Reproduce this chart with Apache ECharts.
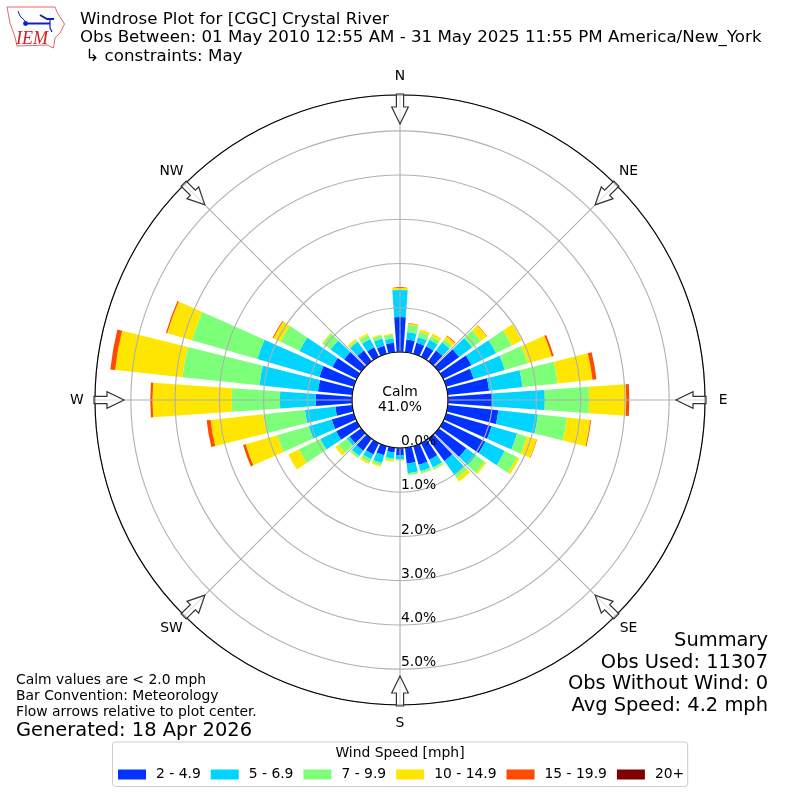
<!DOCTYPE html>
<html><head><meta charset="utf-8">
<style>html,body{margin:0;padding:0;background:#fff}#c{width:800px;height:800px}</style>
<script src="https://cdn.jsdelivr.net/npm/echarts@6/dist/echarts.min.js"></script>
</head><body><div id="c"></div>
<script>
const directions = [0,10,20,30,40,50,60,70,80,90,100,110,120,130,140,150,160,170,180,190,200,210,220,230,240,250,260,270,280,290,300,310,320,330,340,350];
const compassNames = ['N','NE','E','SE','S','SW','W','NW'];
const compassAngles = [0,45,90,135,180,225,270,315];
const radialTicks = [0,1,2,3,4,5];
const speedBins = ['2 - 4.9','5 - 6.9','7 - 9.9','10 - 14.9','15 - 19.9','20+'];
const binColors = ['#0033ff','#00d4ff','#7dff7a','#ffe600','#ff4a00','#800000'];
const s2to5 = [.79,.29,.26,.265,.30,.57,.71,.645,.94,1.0,1.15,1.07,1.06,.77,.62,.42,.44,.36,.16,.11,.217,.285,.33,.32,.52,.52,.385,.82,.78,.81,.615,.475,.30,.24,.19,.215];
const s5to7 = [.61,.17,.135,.165,.23,.36,.62,.735,.76,1.19,.90,.60,.49,.27,.39,.19,.15,.22,.10,.14,.18,.12,.15,.08,.40,.54,.69,.81,1.33,1.46,.83,.38,.24,.21,.17,.10];
const s7to10 = [.01,.165,.12,.09,.08,.25,.40,.54,.80,1.0,.66,.23,.31,.25,.09,.05,.05,.04,.02,.04,.055,.08,.05,.235,.54,.74,.945,1.09,1.75,1.54,.475,.22,.04,.10,.08,.09];
const s10to15 = [.05,.03,.06,.07,.09,.165,.25,.565,.79,.84,.53,.23,.06,.04,.09,.015,.01,0,.01,.03,.035,.04,.01,.09,.265,.745,1.2,1.79,1.53,.58,.18,.02,.04,.04,.02,.02];
const s15to20 = [0,.01,0,0,.02,.01,0,.045,.09,.07,.02,.01,0,0,0,0,0,0,0,0,0,0,0,0,0,.06,.09,.05,.11,.03,.02,0,0,0,0,0];
const s20plus = directions.map(() => 0);
const binValues = [s2to5,s5to7,s7to10,s10to15,s15to20,s20plus];
const titleLines = ['Windrose Plot for [CGC] Crystal River','Obs Between: 01 May 2010 12:55 AM - 31 May 2025 11:55 PM America/New_York',' ↳ constraints: May'];
const summaryLines = ['Summary','Obs Used: 11307','Obs Without Wind: 0','Avg Speed: 4.2 mph'];
const noteLines = ['Calm values are < 2.0 mph','Bar Convention: Meteorology','Flow arrows relative to plot center.'];

const FONT = 'DejaVu Sans';
const CX = 400, CY = 400;
const COMPASS_LABEL_RADIUS = 6.22;
const chart = echarts.init(document.getElementById('c'), null, {renderer:'canvas', width:800, height:800});

function txt(text, x, y, size, align, extra) {
  return {type:'text', x, y, z:50, silent:true, style:Object.assign({text, fontFamily:FONT, fontSize:size, fill:'#000', align:align||'left', verticalAlign:'middle'}, extra||{})};
}
const arrowPts = [[0,-276],[8.3,-293],[3.6,-293],[3.6,-306],[-3.6,-306],[-3.6,-293],[-8.3,-293]];
const arrows = compassAngles.map(d => ({
  type:'polygon', x:CX, y:CY, rotation:-d*Math.PI/180, z:40, silent:true,
  shape:{points:arrowPts}, style:{fill:'rgba(255,255,255,0.6)', stroke:'#333', lineWidth:1.2}
}));
const logo = [
  {type:'polyline', z:40, silent:true, shape:{points:[[7,7],[55,7],[57.5,13],[64.5,24],[60,33],[55,38],[53.5,48],[47,45],[17,46],[15,37],[10,23],[7,7]]}, style:{fill:'none', stroke:'#e06a6a', lineWidth:1}},
  {type:'polyline', z:41, silent:true, shape:{points:[[25,23.5],[50,23.5]]}, style:{stroke:'#1020c0', lineWidth:2, fill:'none'}},
  {type:'polyline', z:41, silent:true, shape:{points:[[18,11],[20,16],[25,21]]}, style:{stroke:'#1020c0', lineWidth:1, fill:'none'}},
  {type:'polyline', z:41, silent:true, shape:{points:[[40,15],[47,19],[54,19]]}, style:{stroke:'#1020c0', lineWidth:2, fill:'none'}},
  {type:'polyline', z:41, silent:true, shape:{points:[[50,20],[50,28],[52,32]]}, style:{stroke:'#1020c0', lineWidth:1.2, fill:'none'}},
  {type:'circle', z:41, silent:true, shape:{cx:25.5,cy:23.5,r:2.4}, style:{fill:'#1020c0'}},
  {type:'text', x:16, y:30, z:41, silent:true, style:{text:'IEM', fontFamily:'Liberation Serif', fontStyle:'italic', fontSize:18, fill:'#d02020'}}
];
const texts = [
  txt(titleLines[0],80,20,16.67), txt(titleLines[1],80,38,16.67), txt(titleLines[2],80,57,16.67),
  txt('Calm',CX,392.5,13.89,'center'), txt('41.0%',CX,407.5,13.89,'center'),
  txt(summaryLines[0],768,641,19.44,'right'), txt(summaryLines[1],768,662.5,19.44,'right'),
  txt(summaryLines[2],768,684,19.44,'right'), txt(summaryLines[3],768,706,19.44,'right'),
  txt(noteLines[0],16,680.5,13.89), txt(noteLines[1],16,696.5,13.89), txt(noteLines[2],16,712.5,13.89),
  txt('Generated: 18 Apr 2026',16,730.5,19.44),
  txt('Wind Speed [mph]',CX,753.5,13.89,'center')
];

const barSeries = speedBins.map((name,i) => ({
  type:'bar', name, coordinateSystem:'polar', stack:'wind', barWidth:'80%', z:2,
  itemStyle:{color:binColors[i]}, silent:true,
  data: directions.map((d,j) => [binValues[i][j], d])
}));
const tickSeries = {
  type:'scatter', coordinateSystem:'polar', symbolSize:0, z:20, silent:true, clip:false,
  itemStyle:{opacity:1},
  data: radialTicks.map(v => [v,180]),
  label:{show:true, position:[1,-6.5], align:'left', verticalAlign:'middle', fontFamily:FONT, fontSize:13.89, color:'#000', opacity:1,
    formatter:p => p.value[0].toFixed(1)+'%'}
};
const compassSeries = {
  type:'scatter', coordinateSystem:'polar', symbolSize:0, z:20, silent:true, clip:false,
  itemStyle:{opacity:1},
  data: compassAngles.map(a => [COMPASS_LABEL_RADIUS, a]),
  label:{show:true, position:[0,0], align:'center', verticalAlign:'middle', fontFamily:FONT, fontSize:13.89, color:'#000', opacity:1,
    formatter:p => compassNames[p.dataIndex]}
};

chart.setOption({
  animation:false,
  backgroundColor:'#fff',
  polar:{center:[CX,CY], radius:[48,305]},
  angleAxis:{type:'value', min:0, max:360, interval:45, startAngle:90, clockwise:true, z:10,
    axisLine:{show:true, lineStyle:{color:'#000', width:1.1}},
    axisTick:{show:false},
    axisLabel:{show:false},
    splitLine:{show:true, lineStyle:{color:'#b0b0b0', width:1.1}}
  },
  radiusAxis:{type:'value', min:0, max:5.81, interval:1, z:10,
    axisLine:{show:false}, axisTick:{show:false}, axisLabel:{show:false},
    splitLine:{show:true, lineStyle:{color:'#b0b0b0', width:1.1}}
  },
  legend:{show:true, left:112.5, top:742, orient:'horizontal', icon:'rect', selectedMode:false,
    data:speedBins, itemWidth:28, itemHeight:10, itemGap:10,
    padding:[25.5,3.5,5,5.5], borderColor:'#ccc', borderWidth:1, borderRadius:3, backgroundColor:'#fff',
    textStyle:{fontFamily:FONT, fontSize:13.89, color:'#000', padding:[0,0,0,5]}},
  series: barSeries.concat([tickSeries, compassSeries]),
  graphic:{elements: arrows.concat(logo, texts)}
});
</script></body></html>
